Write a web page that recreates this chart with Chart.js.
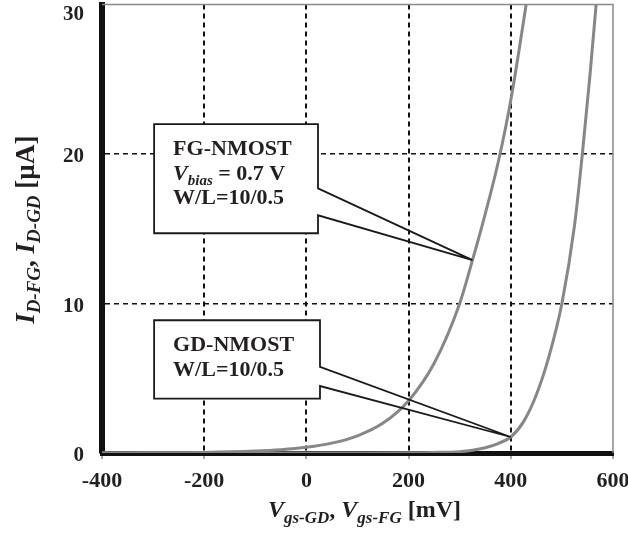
<!DOCTYPE html>
<html><head><meta charset="utf-8">
<script src="https://cdn.jsdelivr.net/npm/chart.js@4.4.1/dist/chart.umd.min.js"></script>
<style>html,body{margin:0;padding:0;background:#fff;}#wrap{width:628px;height:538px;}</style>
</head><body><div id="wrap"><canvas id="c" width="628" height="538"></canvas></div>
<script>
// ---- data ----
const fgV = [-400,-300,-200,-100,-50,0,50,100,150,200,250,300,325,350,375,400,430,445];
const fgI = [0.005,0.015,0.04,0.13,0.22,0.38,0.66,1.15,2.0,3.5,6.0,10.0,12.9,16.0,19.4,23.6,30.0,33.5];
const gdV = [-400,-200,0,100,200,250,300,325,350,375,400,425,450,475,500,525,540,555,567,580];
const gdI = [0,0.001,0.003,0.006,0.015,0.035,0.09,0.18,0.35,0.63,1.07,2.1,3.9,6.5,10.0,15.3,20.0,25.3,30.0,35.5];
const xTicks = [-400,-200,0,200,400,600];
const yTicks = [0,10,20,30];
const fgLabel = ['FG-NMOST', 'Vbias = 0.7 V', 'W/L=10/0.5'];
const gdLabel = ['GD-NMOST', 'W/L=10/0.5'];

const SERIF = '"Liberation Serif","Times New Roman",serif';
const TXT = '#231f20';
const f = (style, size) => style + ' ' + size + 'px ' + SERIF;

function drawRuns(ctx, runs, x, y) {
  let cx = x;
  for (const r of runs) {
    ctx.font = r.f;
    ctx.fillText(r.t, cx, y + (r.dy || 0));
    cx += ctx.measureText(r.t).width;
  }
}
function runsWidth(ctx, runs) {
  let w = 0;
  for (const r of runs) { ctx.font = r.f; w += ctx.measureText(r.t).width; }
  return w;
}

const callouts = [
  { series: 0, tipV: 325, box: [-298, 22.7, 22.0, 14.7], notch: [17.7, 15.9],
    lines: [
      [{t: fgLabel[0], f: f('bold', 22)}],
      [{t: 'V', f: f('italic bold', 22)}, {t: 'bias', f: f('italic bold', 15), dy: 5}, {t: ' = 0.7 V', f: f('bold', 22)}],
      [{t: fgLabel[2], f: f('bold', 22)}]
    ] },
  { series: 1, tipV: 400, box: [-298, 26.6, 8.88, 3.64], notch: [5.76, 4.48],
    lines: [
      [{t: gdLabel[0], f: f('bold', 22)}],
      [{t: gdLabel[1], f: f('bold', 22)}]
    ] }
];

const deco = {
  id: 'deco',
  beforeDatasetsDraw(chart) {
    const {ctx, chartArea: a} = chart;
    ctx.save();
    ctx.strokeStyle = '#8a8a8a'; ctx.lineWidth = 1.5;
    ctx.beginPath();
    ctx.moveTo(a.left, a.top); ctx.lineTo(a.right, a.top); ctx.lineTo(a.right, a.bottom);
    ctx.stroke();
    ctx.restore();
  },
  afterDatasetsDraw(chart) {
    const ctx = chart.ctx, xs = chart.scales.x, ys = chart.scales.y;
    ctx.save();
    for (const c of callouts) {
      const L = xs.getPixelForValue(c.box[0]), R = xs.getPixelForValue(c.box[1]);
      const T = ys.getPixelForValue(c.box[2]), B = ys.getPixelForValue(c.box[3]);
      const n1 = ys.getPixelForValue(c.notch[0]), n2 = ys.getPixelForValue(c.notch[1]);
      const srcV = c.series === 0 ? fgV : gdV;
      const tip = chart.getDatasetMeta(c.series).data[srcV.indexOf(c.tipV)];
      ctx.fillStyle = '#fff';
      ctx.fillRect(L, T, R - L, B - T);
      ctx.beginPath();
      ctx.moveTo(L, T); ctx.lineTo(R, T); ctx.lineTo(R, n1); ctx.lineTo(tip.x, tip.y);
      ctx.lineTo(R, n2); ctx.lineTo(R, B); ctx.lineTo(L, B); ctx.closePath();
      ctx.strokeStyle = '#1a1a1a'; ctx.lineWidth = 1.8; ctx.lineJoin = 'miter';
      ctx.stroke();
      ctx.fillStyle = TXT; ctx.textAlign = 'left'; ctx.textBaseline = 'alphabetic';
      c.lines.forEach((runs, i) => drawRuns(ctx, runs, L + 19, T + 31 + i * 24.5));
    }
    ctx.restore();
  },
  afterDraw(chart) {
    const ctx = chart.ctx, xs = chart.scales.x, ys = chart.scales.y;
    ctx.save();
    ctx.fillStyle = TXT; ctx.textBaseline = 'alphabetic';
    // y tick labels
    ctx.font = f('bold', 21); ctx.textAlign = 'right';
    for (const v of yTicks) {
      const p = ys.getPixelForValue(v);
      ctx.fillText(String(v), 84, Math.max(p + 8, 19.5));
    }
    // x tick labels
    ctx.font = f('bold', 22); ctx.textAlign = 'center';
    for (const v of xTicks) {
      ctx.fillText(String(v), xs.getPixelForValue(v), 486.5);
    }
    ctx.textAlign = 'left';
    // x title
    const xr = [
      {t: 'V', f: f('italic bold', 24)}, {t: 'gs-GD', f: f('italic bold', 17), dy: 6},
      {t: ', ', f: f('bold', 24)},
      {t: 'V', f: f('italic bold', 24)}, {t: 'gs-FG', f: f('italic bold', 17), dy: 6},
      {t: ' [mV]', f: f('bold', 24)}
    ];
    const xw = runsWidth(ctx, xr);
    drawRuns(ctx, xr, (xs.left + xs.right) / 2 + 7 - xw / 2, 516.5);
    // y title
    const yr = [
      {t: 'I', f: f('italic bold', 27)}, {t: 'D-FG', f: f('italic bold', 19), dy: 6},
      {t: ', ', f: f('bold', 27)},
      {t: 'I', f: f('italic bold', 27)}, {t: 'D-GD', f: f('italic bold', 19), dy: 6},
      {t: ' [\u00b5A]', f: f('bold', 27)}
    ];
    const yw = runsWidth(ctx, yr);
    ctx.translate(34, (ys.top + ys.bottom) / 2 + 1);
    ctx.rotate(-Math.PI / 2);
    drawRuns(ctx, yr, -yw / 2, 0);
    ctx.restore();
  }
};

const pts = (xs, ys) => xs.map((x, i) => ({x: x, y: ys[i]}));

new Chart(document.getElementById('c'), {
  type: 'line',
  data: {
    datasets: [
      { label: 'FG-NMOST', data: pts(fgV, fgI), borderColor: '#878787', borderWidth: 3,
        pointRadius: 0, cubicInterpolationMode: 'monotone', fill: false },
      { label: 'GD-NMOST', data: pts(gdV, gdI), borderColor: '#878787', borderWidth: 3,
        pointRadius: 0, cubicInterpolationMode: 'monotone', fill: false }
    ]
  },
  options: {
    responsive: false, animation: false, devicePixelRatio: 1,
    layout: { padding: { top: 4.5, right: 15, left: 0, bottom: 0 } },
    plugins: { legend: { display: false }, tooltip: { enabled: false } },
    scales: {
      x: {
        type: 'linear', min: -400, max: 600,
        afterBuildTicks: s => { s.ticks = xTicks.map(v => ({value: v})); },
        afterFit: s => { s.height = 85; },
        ticks: { display: false },
        border: { color: '#111', width: 5, dash: [5, 4] },
        grid: {
          color: c => (c.tick && (c.tick.value === -400 || c.tick.value === 600)) ? 'rgba(0,0,0,0)' : '#111',
          lineWidth: 2, drawTicks: true, tickLength: 6,
          tickColor: '#555', tickWidth: 1, tickBorderDash: []
        }
      },
      y: {
        type: 'linear', min: 0, max: 30,
        afterBuildTicks: s => { s.ticks = yTicks.map(v => ({value: v})); },
        afterFit: s => { s.width = 102; },
        ticks: { display: false },
        border: { color: '#111', width: 6, dash: [5, 4] },
        grid: {
          color: c => (c.tick && (c.tick.value === 0 || c.tick.value === 30)) ? 'rgba(0,0,0,0)' : '#111',
          lineWidth: 1.5, drawTicks: false
        }
      }
    }
  },
  plugins: [deco]
});
</script>
</body></html>
